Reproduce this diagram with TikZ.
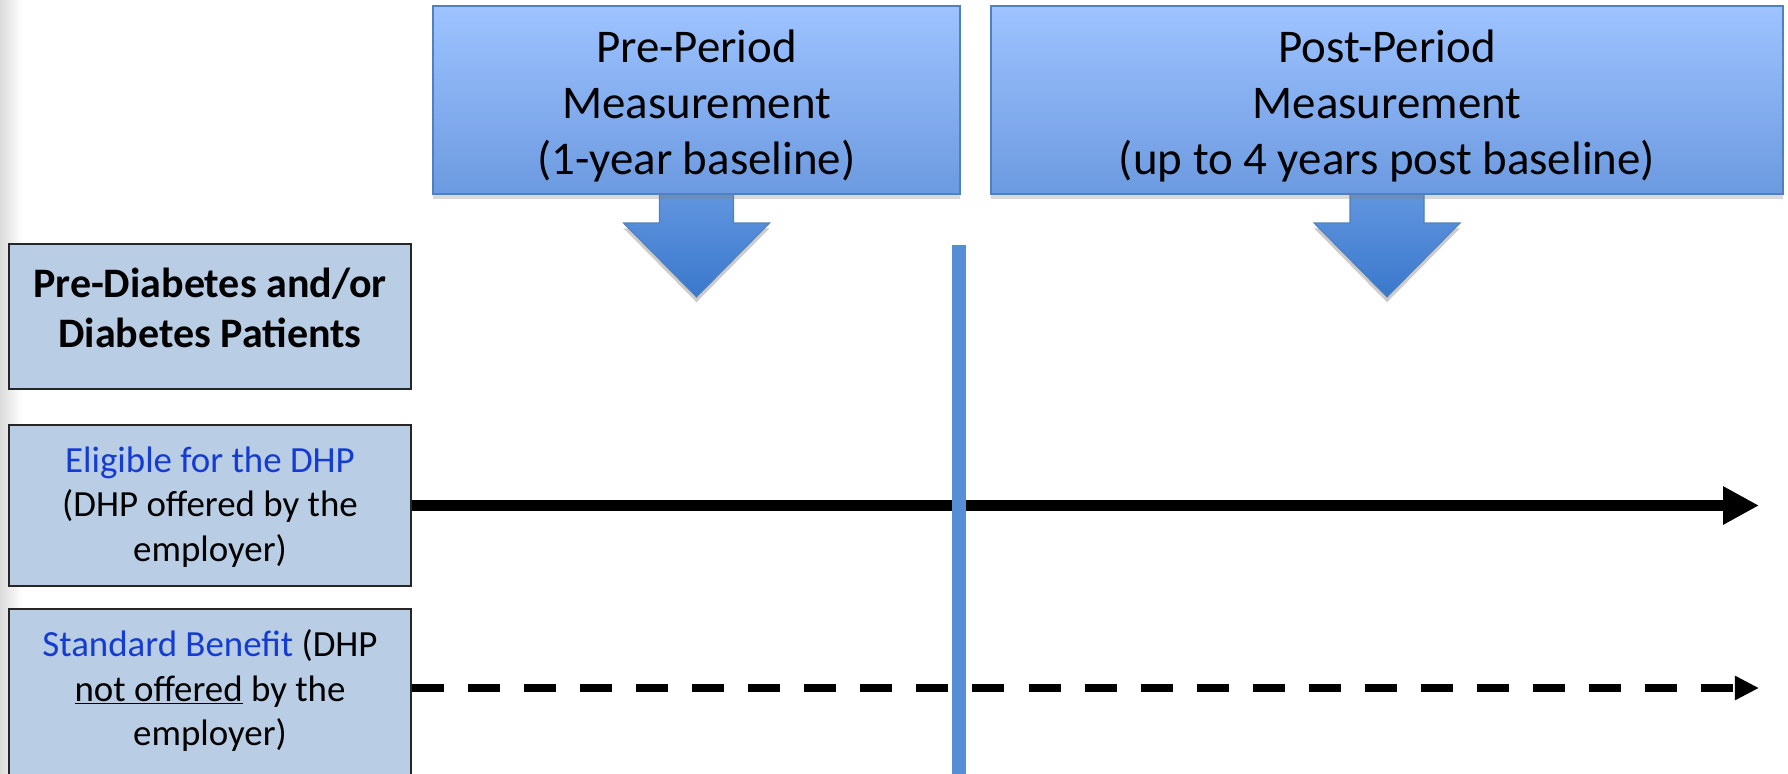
\documentclass[tikz,border=0pt]{standalone}
\usepackage{fontspec}
\setmainfont{Carlito}
\usetikzlibrary{arrows.meta,shadows}

\definecolor{measboxtop}{RGB}{158,195,255}
\definecolor{measboxbot}{RGB}{108,154,224}
\definecolor{measedge}{RGB}{79,129,189}
\definecolor{arrowtop}{RGB}{112,160,230}
\definecolor{arrowbot}{RGB}{58,120,204}
\definecolor{groupfill}{RGB}{185,205,229}
\definecolor{dhpblue}{RGB}{20,60,210}
\definecolor{dividerblue}{RGB}{85,142,213}

\newcommand\measfont{\fontsize{26.7}{32}\selectfont}
\newcommand\groupheadfont{\fontsize{23.9}{28.5}\selectfont\bfseries}
\newcommand\groupfont{\fontsize{21}{25.3}\selectfont}
\newcommand\dhp[1]{\textcolor{dhpblue}{#1}}
% block arrow hanging under a measurement box
\newcommand\measarrow[1]{
  \path[measarrowstyle] ([shift={(-37,-40)}]#1.south) -- ++(0,69) -- ++(-36,0)
    -- ([shift={(0,103)}]#1.south) -- ([shift={(73,29)}]#1.south)
    -- ++(-36,0) -- ++(0,-69) -- cycle ;
}

\tikzset{
  measbox/.style={draw=measedge, line width=1pt, top color=measboxtop, bottom color=measboxbot,
    drop shadow={shadow xshift=0pt, shadow yshift=-3pt, opacity=.3},
    inner sep=0pt, minimum height=3.76cm},
  meastext/.style={align=center, font=\measfont, inner sep=0pt},
  measarrowstyle/.style={draw=measedge, line width=.6pt, top color=arrowtop, bottom color=arrowbot,
    preaction={fill=black, opacity=.2, transform canvas={yshift=-3pt}}},
  groupbox/.style={draw=black!85, line width=1.2pt, fill=groupfill, minimum width=8.04cm, inner sep=0pt},
  grouptext/.style={align=center, inner sep=0pt},
  mainarrow/.style={line width=6.8pt, -{Triangle[length=20.5pt, width=20.5pt]}},
  dasharrow/.style={line width=4.5pt, dash pattern=on 18.2pt off 13.7pt, -{Triangle[length=13.7pt, width=13pt]}},
  divider/.style={draw=dividerblue, line width=8.5pt}
}

\begin{document}
\begin{tikzpicture}[x=0.02cm, y=-0.02cm]
  \useasboundingbox (0,0) rectangle (1788,774) ;
  \clip (0,0) rectangle (1788,774) ;
  \shade[left color=black!14, right color=white] (0,0) rectangle (22,774) ;

  % measurement periods
  \coordinate (precenter) at (696.5,100) ;
  \coordinate (postcenter) at (1387,100) ;
  \path (precenter) ++(0,94) coordinate (presouth) ;
  \path (postcenter) ++(0,94) coordinate (postsouth) ;
  \measarrow{presouth}
  \measarrow{postsouth}
  \node[measbox, minimum width=10.54cm] (pre) at (precenter) {} ;
  \node[measbox, minimum width=15.84cm] (post) at (postcenter) {} ;
  \node[meastext] (pretext) at (696.5,106) {Pre-Period\\Measurement\\(1-year baseline)} ;
  \node[meastext] (posttext) at (1387,106) {Post-Period\\Measurement\\(up to 4 years post baseline)} ;

  % patient groups
  \node[groupbox, minimum height=2.9cm] (patients) at (210,316.5) {} ;
  \node[groupbox, minimum height=3.22cm] (eligible) at (210,505.5) {} ;
  \node[groupbox, minimum height=3.42cm] (standard) at (210,694.5) {} ;
  \node[grouptext, font=\groupheadfont] (patientstext) at (210,308) {Pre-Diabetes and/or\\Diabetes Patients} ;
  \node[grouptext, font=\groupfont] (eligibletext) at (210,507) {\dhp{Eligible for the DHP}\\(DHP offered by the\\employer)} ;
  \node[grouptext, font=\groupfont] (standardtext) at (210,690.5) {\dhp{Standard Benefit} (DHP\\\underline{not offered} by the\\employer)} ;

  % follow-up lines
  \coordinate (eligibleend) at (1759,505.5) ;
  \coordinate (standardend) at (1759,688) ;
  \draw[mainarrow] (eligible.east) -- (eligibleend) ;
  \draw[dasharrow] (standard.east |- standardend) -- (standardend) ;

  % baseline divider
  \coordinate (dividertop) at (959,245) ;
  \coordinate (dividerbot) at (959,790) ;
  \draw[divider] (dividertop) -- (dividerbot) ;
\end{tikzpicture}
\end{document}
